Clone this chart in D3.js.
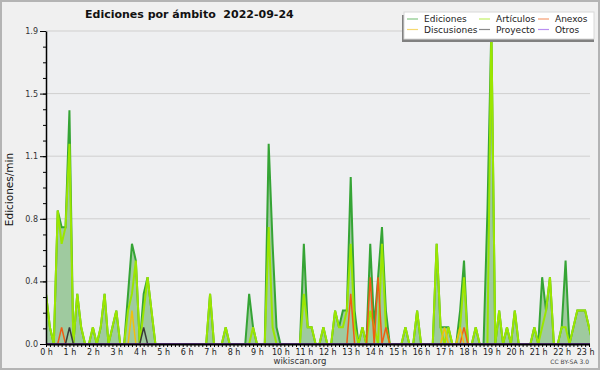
<!DOCTYPE html>
<html lang="es">
<head>
<meta charset="UTF-8">
<title>Ediciones por ámbito</title>
<script src="https://cdn.jsdelivr.net/npm/d3@7"></script>
<style>
  body { margin: 0; background: #fff; }
  svg { display: block; font-family: "DejaVu Sans", sans-serif; }
</style>
</head>
<body>
<svg></svg>
<script>
// edits per minute, one value per 10 minutes (0:00 .. 23:10), 12 values per row = 2 hours
const ediciones = [
  0.3, 0.1, 0, 0.8, 0.7, 0.7,   1.4, 0, 0.3, 0.1, 0, 0,
  0.1, 0, 0.1, 0.3, 0, 0.1,     0.2, 0, 0, 0.3, 0.6, 0.5,
  0, 0.3, 0.4, 0.2, 0, 0,       0, 0, 0, 0, 0, 0,
  0, 0, 0, 0, 0, 0,             0.3, 0, 0, 0, 0.1, 0,
  0, 0, 0, 0, 0.3, 0.1,         0, 0, 0, 1.2, 0.6, 0.1,
  0, 0, 0, 0, 0, 0,             0.6, 0.1, 0.1, 0, 0, 0.1,
  0, 0, 0.2, 0.1, 0.2, 0.2,     1.0, 0.2, 0, 0.1, 0, 0.6,
  0.1, 0.4, 0.7, 0.2, 0, 0,     0, 0, 0.1, 0, 0, 0.2,
  0, 0, 0, 0, 0.6, 0.1,         0.1, 0.1, 0, 0, 0.2, 0.5,
  0, 0, 0.1, 0, 0, 0.8,         1.9, 0, 0.2, 0, 0.1, 0,
  0.2, 0, 0, 0, 0, 0.1,         0, 0.4, 0.2, 0.4, 0, 0,
  0.1, 0.5, 0, 0.1, 0.2, 0.2,   0.2, 0.1, 0
];
const articulos = [
  0.3, 0.1, 0, 0.8, 0.6, 0.7,   1.2, 0, 0.3, 0.1, 0, 0,
  0.1, 0, 0.1, 0.3, 0, 0.1,     0.2, 0, 0, 0.2, 0.3, 0.5,
  0, 0.2, 0.4, 0.2, 0, 0,       0, 0, 0, 0, 0, 0,
  0, 0, 0, 0, 0, 0,             0.3, 0, 0, 0, 0.1, 0,
  0, 0, 0, 0, 0, 0.1,           0, 0, 0, 0.7, 0.1, 0,
  0, 0, 0, 0, 0, 0,             0.3, 0.1, 0.1, 0, 0, 0.1,
  0, 0, 0.2, 0.1, 0.1, 0.2,     0.6, 0.1, 0, 0.1, 0, 0.2,
  0.1, 0, 0.6, 0.1, 0, 0,       0, 0, 0.1, 0, 0, 0.2,
  0, 0, 0, 0, 0.6, 0.1,         0, 0.1, 0, 0, 0.1, 0.4,
  0, 0, 0.1, 0, 0, 0,           1.9, 0, 0.2, 0, 0.1, 0,
  0.2, 0, 0, 0, 0, 0.1,         0, 0.1, 0.2, 0.4, 0, 0,
  0.1, 0.1, 0, 0.1, 0.2, 0.2,   0.2, 0.1, 0
];
const anexos = [
  0, 0, 0, 0, 0.1, 0,           0, 0, 0, 0, 0, 0,
  0, 0, 0, 0, 0, 0,             0, 0, 0, 0, 0, 0,
  0, 0, 0, 0, 0, 0,             0, 0, 0, 0, 0, 0,
  0, 0, 0, 0, 0, 0,             0, 0, 0, 0, 0, 0,
  0, 0, 0, 0, 0, 0,             0, 0, 0, 0, 0, 0,
  0, 0, 0, 0, 0, 0,             0, 0, 0, 0, 0, 0,
  0, 0, 0, 0, 0, 0,             0.3, 0, 0, 0, 0, 0.4,
  0, 0.4, 0, 0.1, 0, 0,         0, 0, 0, 0, 0, 0,
  0, 0, 0, 0, 0, 0,             0, 0, 0, 0, 0, 0.1,
  0, 0, 0, 0, 0, 0,             0, 0, 0, 0, 0, 0,
  0, 0, 0, 0, 0, 0,             0, 0, 0, 0, 0, 0,
  0, 0, 0, 0, 0, 0,             0, 0, 0
];
const discusiones = [
  0, 0, 0, 0, 0, 0,             0, 0, 0, 0, 0, 0,
  0, 0, 0, 0, 0, 0,             0, 0, 0, 0, 0.2, 0,
  0, 0, 0, 0, 0, 0,             0, 0, 0, 0, 0, 0,
  0, 0, 0, 0, 0, 0,             0, 0, 0, 0, 0, 0,
  0, 0, 0, 0, 0, 0,             0, 0, 0, 0, 0, 0,
  0, 0, 0, 0, 0, 0,             0, 0, 0, 0, 0, 0,
  0, 0, 0, 0, 0, 0,             0, 0, 0, 0, 0, 0,
  0, 0, 0, 0, 0, 0,             0, 0, 0, 0, 0, 0,
  0, 0, 0, 0, 0, 0,             0.1, 0, 0, 0, 0.1, 0,
  0, 0, 0, 0, 0, 0,             0, 0, 0, 0, 0, 0,
  0, 0, 0, 0, 0, 0,             0, 0, 0, 0, 0, 0,
  0, 0, 0, 0, 0, 0,             0, 0, 0
];
const proyecto = [
  0, 0, 0, 0, 0, 0,             0.1, 0, 0, 0, 0, 0,
  0, 0, 0, 0, 0, 0,             0, 0, 0, 0, 0, 0,
  0, 0.1, 0, 0, 0, 0,           0, 0, 0, 0, 0, 0,
  0, 0, 0, 0, 0, 0,             0, 0, 0, 0, 0, 0,
  0, 0, 0, 0, 0, 0,             0, 0, 0, 0, 0, 0,
  0, 0, 0, 0, 0, 0,             0, 0, 0, 0, 0, 0,
  0, 0, 0, 0, 0, 0,             0, 0, 0, 0, 0, 0,
  0, 0, 0, 0, 0, 0,             0, 0, 0, 0, 0, 0,
  0, 0, 0, 0, 0, 0,             0, 0, 0, 0, 0, 0,
  0, 0, 0, 0, 0, 0,             0, 0, 0, 0, 0, 0,
  0, 0, 0, 0, 0, 0,             0, 0, 0, 0, 0, 0,
  0, 0, 0, 0, 0, 0,             0, 0, 0
];
const otros = new Array(ediciones.length).fill(0); // nothing in this namespace today

const legendNames = ["Ediciones", "Artículos", "Anexos", "Discusiones", "Proyecto", "Otros"];
const yTicks = [0, 0.375, 0.75, 1.125, 1.5, 1.875];
const hourLabels = d3.range(24).map(h => `${h} h`);
const title = "Ediciones por ámbito\u00a0\u00a02022-09-24";

const width = 600, height = 370;
const plotLeft = 46, plotRight = 590, plotTop = 31, plotBottom = 344;

const svg = d3.select('svg').attr('width', width).attr('height', height);

// background + frame
svg.append('rect').attr('width', width).attr('height', height).attr('fill', '#b4b4b4');
svg.append('rect').attr('x', 2).attr('y', 2).attr('width', width - 4).attr('height', height - 4).attr('fill', '#f0f0f0');
svg.append('rect').attr('x', plotLeft).attr('y', plotTop).attr('width', plotRight - plotLeft)
    .attr('height', plotBottom - plotTop).attr('fill', '#eeeff1');

// scales: 10 minute bins, 23.44px per hour
const x = d3.scaleLinear().domain([0, 144]).range([plotLeft, plotLeft + 24 * 23.44]);
const y = d3.scaleLinear().domain([0, 1.875]).range([plotBottom, plotTop]);

// grid
svg.append('g')
    .selectAll('line')
    .data(yTicks.slice(1))
    .join('line')
    .attr('x1', plotLeft).attr('x2', plotRight)
    .attr('y1', d => y(d)).attr('y2', d => y(d))
    .attr('stroke', '#cfcfcf');

svg.append('clipPath').attr('id', 'clip')
    .append('rect').attr('x', plotLeft).attr('y', 0).attr('width', plotRight - plotLeft).attr('height', plotBottom);

const plot = svg.append('g').attr('clip-path', 'url(#clip)');

// filled area of all edits
plot.append('path')
    .datum(ediciones)
    .attr('fill', '#9fca9f')
    .attr('d', d3.area().x((d, i) => x(i)).y0(plotBottom).y1(d => y(d)));

const series = [
    { values: ediciones, color: '#35a435', w: 2 },
    { values: articulos, color: '#9be600', w: 2 },
    { values: anexos, color: '#f05c14', w: 1.5 },
    { values: discusiones, color: '#f0c010', w: 1.5 },
    { values: proyecto, color: '#3a3a3a', w: 1.5 },
    { values: otros, color: '#8a44e6', w: 1.5 }
];
const line = d3.line().x((d, i) => x(i)).y(d => y(d));
plot.selectAll('.serie')
    .data(series)
    .join('path')
    .attr('class', 'serie')
    .attr('fill', 'none')
    .attr('stroke', d => d.color)
    .attr('stroke-width', d => d.w)
    .attr('d', d => line(d.values));

// y axis: majors with labels, minors without
const fmt = d3.format('.1f');
const yMinor = d3.range(0, 1.875 + 0.001, 0.09375);
const yAxis = svg.append('g')
    .attr('transform', `translate(${plotLeft},0)`)
    .call(d3.axisLeft(y).tickValues(yMinor).tickSize(3).tickFormat('').tickSizeOuter(0));
svg.append('g')
    .attr('transform', `translate(${plotLeft},0)`)
    .call(d3.axisLeft(y).tickValues(yTicks).tickSize(6).tickPadding(2).tickFormat(fmt).tickSizeOuter(0))
    .call(g => g.select('.domain').remove())
    .call(g => g.selectAll('text').attr('font-size', 8).attr('font-family', 'DejaVu Sans').attr('fill', '#333'));
yAxis.select('.domain').attr('stroke-width', 1.5);

// x axis: a tick every 10 minutes, label every hour
const xBins = d3.range(0, 140);
svg.append('g')
    .attr('transform', `translate(0,${plotBottom})`)
    .call(d3.axisBottom(x).tickValues(xBins).tickSize(3).tickPadding(2)
        .tickFormat(i => i % 6 === 0 ? hourLabels[i / 6] : '').tickSizeOuter(0))
    .call(g => g.select('.domain').attr('d', `M${plotLeft},0.5H${plotRight}`).attr('stroke-width', 2))
    .call(g => g.selectAll('text').attr('font-size', 8).attr('font-family', 'DejaVu Sans').attr('fill', '#222'));

// titles
svg.append('text')
    .attr('x', 85).attr('y', 18)
    .attr('font-size', 11).attr('font-weight', 'bold').attr('fill', '#111')
    .text(title);
svg.append('text')
    .attr('transform', `translate(13,${(plotTop + plotBottom) / 2 + 2}) rotate(-90)`)
    .attr('text-anchor', 'middle')
    .attr('font-size', 10.5).attr('fill', '#111')
    .text('Ediciones/min');
svg.append('text')
    .attr('x', 300).attr('y', 364).attr('text-anchor', 'middle')
    .attr('font-size', 8.5).attr('fill', '#333')
    .text('wikiscan.org');
svg.append('text')
    .attr('x', 589).attr('y', 364).attr('text-anchor', 'end')
    .attr('font-size', 6).attr('fill', '#444')
    .text('CC BY-SA 3.0');

// legend
const legend = svg.append('g');
legend.append('rect').attr('x', 402).attr('y', 15).attr('width', 192).attr('height', 27).attr('fill', '#808080');
legend.append('rect').attr('x', 404).attr('y', 12).attr('width', 190).attr('height', 27)
    .attr('fill', '#fff').attr('stroke', '#d8d8d8');
const colX = [407, 479, 538];
const items = legend.selectAll('.item')
    .data(legendNames)
    .join('g')
    .attr('class', 'item')
    .attr('transform', (d, i) => `translate(${colX[i % 3]},${i < 3 ? 19 : 29.5})`);
items.append('line')
    .attr('x2', 11)
    .attr('stroke', (d, i) => series[i].color)
    .attr('stroke-opacity', 0.6)
    .attr('stroke-width', 1.2);
items.append('text')
    .attr('x', 17)
    .attr('dy', '0.35em')
    .attr('font-size', 9).attr('fill', '#222')
    .text(d => d);
</script>
</body>
</html>
